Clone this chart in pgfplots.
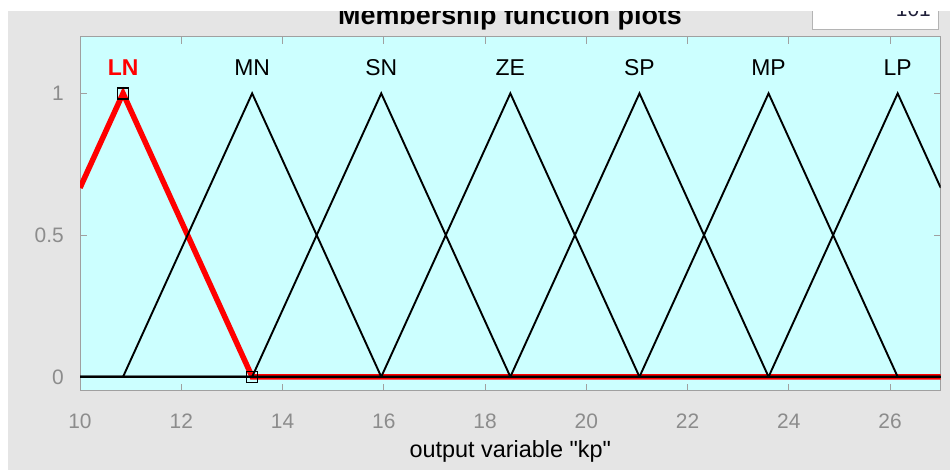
\documentclass[border=0pt]{standalone}
\usepackage{pgfplots}
\pgfplotsset{compat=1.18}
\usepackage{fontspec}
\setmainfont{Liberation Sans}
% same face without the TeX quote mapping, for straight quotes
\newfontfamily\plainfont{Liberation Sans}

\definecolor{figbg}{HTML}{E5E5E5}
\definecolor{axbg}{HTML}{CCFFFF}
\definecolor{axline}{HTML}{A0A0A0}
\definecolor{ticktext}{HTML}{8C8C8C}
\definecolor{boxline}{HTML}{B4B4B4}
\definecolor{numtext}{HTML}{20203A}

\begin{document}
\begin{tikzpicture}[x=1bp,y=1bp]
\useasboundingbox (0,0) rectangle (950,470);
% figure window
\fill[white] (0,0) rectangle (950,470);
\fill[figbg] (8,0) rectangle (950,459);
\node[font=\fontsize{27}{31}\selectfont\bfseries, anchor=base] at (510,445) {Membership function plots};
% plot-points field
\fill[white] (812,440) rectangle (938,470);
\draw[boxline, line width=1bp] (812,470) -- (812,440) -- (938,440) -- (938,470);
\begin{scope}
  \clip (812,440) rectangle (938,459);
  \node[anchor=base east, inner sep=0pt, font=\fontsize{21}{25}\selectfont, text=numtext] at (931,453) {101};
\end{scope}
\fill[white] (0,459) rectangle (950,470);

\begin{axis}[
  at={(80bp,79bp)}, anchor=south west,
  scale only axis, width=860.7bp, height=354.3bp,
  xmin=10, xmax=27, ymin=-0.05, ymax=1.2,
  xtick={10,12,...,26}, ytick={0,0.5,1},
  tick align=inside, major tick length=7bp,
  axis background/.style={fill=axbg},
  axis line style={axline, line width=1bp},
  every tick/.style={axline, line width=1bp},
  /pgf/number format/assume math mode=true,
  ticklabel style={font=\fontsize{21}{25}\selectfont, text=ticktext, inner sep=0pt},
  xticklabel style={anchor=base, yshift=-37.5bp},
  yticklabel style={anchor=east, xshift=-16bp},
  xlabel={output variable "kp"},
  xlabel style={at={(axis description cs:0.5,0)}, anchor=base, inner sep=0pt,
                yshift=-67bp, font=\plainfont\fontsize{23.5}{27}\selectfont},
  clip=true,
]
% selected membership function (LN)
\addplot[red, line width=5.5bp] coordinates {(10,0.6667) (10.85,1) (13.4,0) (27,0)};
% remaining membership functions
\addplot[black, line width=1.9bp] coordinates {(10,0) (10.85,0) (13.4,1) (15.95,0) (27,0)};
\addplot[black, line width=1.9bp] coordinates {(10,0) (13.4,0) (15.95,1) (18.5,0) (27,0)};
\addplot[black, line width=1.9bp] coordinates {(10,0) (15.95,0) (18.5,1) (21.05,0) (27,0)};
\addplot[black, line width=1.9bp] coordinates {(10,0) (18.5,0) (21.05,1) (23.6,0) (27,0)};
\addplot[black, line width=1.9bp] coordinates {(10,0) (21.05,0) (23.6,1) (26.15,0) (27,0)};
\addplot[black, line width=1.9bp] coordinates {(10,0) (23.6,0) (26.15,1) (27,0.6667)};
% LN's drag handles
\addplot[only marks, mark=square, mark size=5.5bp,
  mark options={draw=black, line width=1.3bp, fill=none}] coordinates {(10.85,1) (13.4,0)};
% names above the peaks
\node[font=\fontsize{23}{27}\selectfont\bfseries, text=red] at (axis cs:10.85,1.09) {LN};
\node[font=\fontsize{23}{27}\selectfont] at (axis cs:13.4,1.09) {MN};
\node[font=\fontsize{23}{27}\selectfont] at (axis cs:15.95,1.09) {SN};
\node[font=\fontsize{23}{27}\selectfont] at (axis cs:18.5,1.09) {ZE};
\node[font=\fontsize{23}{27}\selectfont] at (axis cs:21.05,1.09) {SP};
\node[font=\fontsize{23}{27}\selectfont] at (axis cs:23.6,1.09) {MP};
\node[font=\fontsize{23}{27}\selectfont] at (axis cs:26.15,1.09) {LP};
\end{axis}
\end{tikzpicture}
\end{document}
